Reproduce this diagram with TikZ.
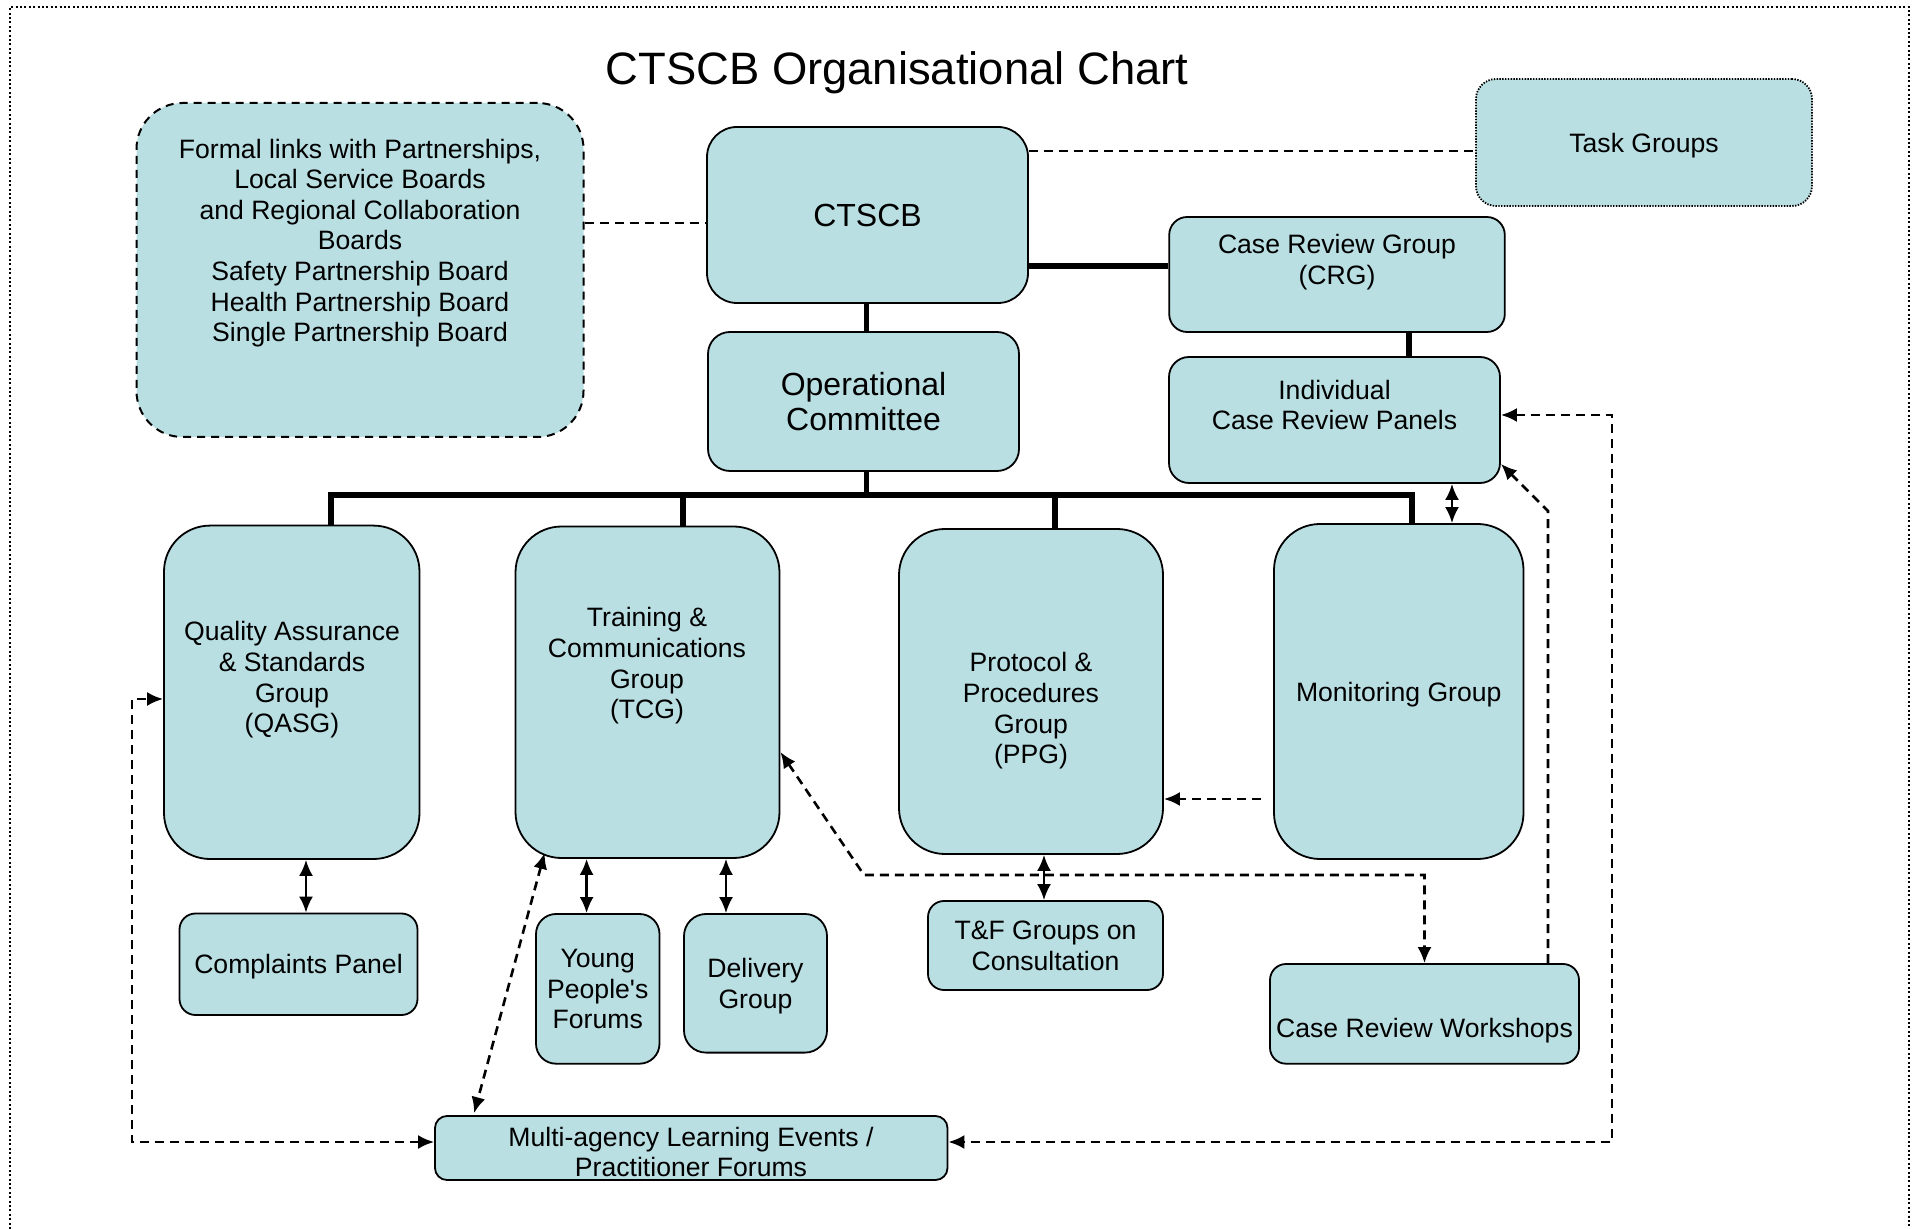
\documentclass[tikz,border=0pt]{standalone}
\usepackage{fontspec}
\setmainfont{Liberation Sans}
\usetikzlibrary{arrows.meta}
\definecolor{boxblue}{RGB}{185,223,227}
\newcommand{\txt}{\fontsize{13.3}{15.3}\selectfont}
\newcommand{\bigtxt}{\fontsize{16}{17.5}\selectfont}
\tikzset{
  grp/.style={draw, line width=0.9pt, fill=boxblue, inner sep=0pt, align=center, text depth=0pt, font=\txt},
  lbl/.style={align=center, font=\txt, inner sep=0pt},
  trunk/.style={line width=2.8pt},
  link/.style={line width=1.3pt, dash pattern=on 4.5pt off 3pt},
  pair/.style={line width=1.2pt, twohead},
  twohead/.style={{Latex[length=8pt,width=7pt]}-{Latex[length=8pt,width=7pt]}},
  onehead/.style={-{Latex[length=8pt,width=7pt]}},
}

\begin{document}
\begin{tikzpicture}[x=0.5pt, y=-0.5pt]
	\useasboundingbox (0,0) rectangle (1912,1229);
	\draw[line width=0.6pt, dash pattern=on 1pt off 1.2pt](10,1229)--(10,7)--(1909,7)--(1909,1229);
	\node[anchor=base, font=\fontsize{22.7}{26}\selectfont] (title) at (897,85) {CTSCB Organisational Chart};
	% board level
	\node[grp, line width=1pt, dash pattern=on 4pt off 3pt, rounded corners=23pt, minimum width=223.5pt, minimum height=167pt] (formal) at (360,270) {};
	\node[lbl] (formal-t) at (360,243) {Formal links with Partnerships,\\Local Service Boards\\and Regional Collaboration\\Boards\\Safety Partnership Board\\Health Partnership Board\\Single Partnership Board};
	\node[grp, font=\bigtxt, rounded corners=15pt, minimum width=160.5pt, minimum height=88pt] (ctscb) at (867.5,215) {CTSCB};
	\node[grp, dash pattern=on 0.7pt off 0.7pt, rounded corners=10pt, minimum width=168pt, minimum height=63.5pt] (task) at (1644,142.5) {Task Groups};
	\node[grp, rounded corners=9pt, minimum width=167.8pt, minimum height=57.5pt] (crg) at (1337,274.5) {};
	\node[lbl] (crg-t) at (1337,262) {Case Review Group\\(CRG)};
	\node[grp, font=\bigtxt, rounded corners=11pt, minimum width=155.5pt, minimum height=69.5pt] (opc) at (863.5,401.5) {Operational\\Committee};
	\node[grp, rounded corners=10pt, minimum width=165.5pt, minimum height=63pt] (ind) at (1334.5,420) {};
	\node[lbl] (ind-t) at (1334.5,405) {Individual\\Case Review Panels};
	% groups
	\node[grp, rounded corners=23pt, minimum width=127.75pt, minimum height=166.7pt] (qasg) at (291.75,692.3) {};
	\node[lbl] (qasg-t) at (292,680) {Quality Assurance\\\& Standards\\Group\\(QASG)};
	\node[grp, rounded corners=23pt, minimum width=132pt, minimum height=165.75pt] (tcg) at (647.5,692.25) {};
	\node[lbl] (tcg-t) at (647,666) {Training \&\\Communications\\Group\\(TCG)};
	\node[grp, rounded corners=23pt, minimum width=132pt, minimum height=162.5pt] (ppg) at (1031,691.5) {};
	\node[lbl] (ppg-t) at (1031,711) {Protocol \&\\Procedures\\Group\\(PPG)};
	\node[grp, rounded corners=23pt, minimum width=124.75pt, minimum height=167.5pt] (mon) at (1398.75,691.5) {Monitoring Group};
	% sub-groups
	\node[grp, rounded corners=8pt, minimum width=119pt, minimum height=50.75pt] (comp) at (298.5,964.25) {Complaints Panel};
	\node[grp, rounded corners=10pt, minimum width=61.75pt, minimum height=74.85pt] (ypf) at (597.75,988.85) {Young\\People\textquotesingle s\\Forums};
	\node[grp, rounded corners=11pt, minimum width=71.5pt, minimum height=69.3pt] (del) at (755.5,983.3) {Delivery\\Group};
	\node[grp, rounded corners=8pt, minimum width=117.5pt, minimum height=44.5pt] (tf) at (1045.5,945.5) {T\&F Groups on\\Consultation};
	\node[grp, rounded corners=8pt, minimum width=154.5pt, minimum height=49.85pt] (crw) at (1424.5,1013.85) {};
	\node[lbl] (crw-t) at (1424.5,1031) {Case Review Workshops};
	\node[grp, rounded corners=6pt, minimum width=256.25pt, minimum height=32pt] (multi) at (691.25,1148) {};
	\node[lbl] (multi-t) at (691,1152) {Multi-agency Learning Events /\\Practitioner Forums};
	% solid links
	\draw[trunk](ctscb.east |- 0,266)--(crg.west |- 0,266);
	\draw[trunk](ctscb.south -| 866.5,0)--(opc.north -| 866.5,0);
	\draw[trunk](crg.south -| 1409,0)--(ind.north -| 1409,0);
	\coordinate (bus) at (866.5,495);
	\draw[trunk](opc.south -| bus)--(bus);
	\draw[trunk](qasg.north -| 331,0) |- (bus) -| (mon.north -| 1412,0);
	\draw[trunk](tcg.north -| 683,0)--(bus -| 683,0);
	\draw[trunk](ppg.north -| 1055,0)--(bus -| 1055,0);
	\draw[pair](qasg.south -| 306,0)--(comp.north -| 306,0);
	\draw[pair](tcg.south -| 586.6,0)--(ypf.north -| 586.6,0);
	\draw[pair](tcg.south -| 726,0)--(del.north -| 726,0);
	\draw[pair](ppg.south -| 1044,0)--(tf.north -| 1044,0);
	\draw[pair](ind.south -| 1452,0)--(mon.north -| 1452,0);
	% dashed links
	\draw[link](formal.east |- 0,223)--(ctscb.west |- 0,223);
	\draw[link](ctscb.east |- 0,151)--(task.west |- 0,151);
	\draw[link, twohead](multi.west |- 0,1142) -| (132,699)--(qasg.west |- 0,699);
	\draw[link, twohead]([xshift=15pt,yshift=3pt]tcg.south west)--([xshift=20pt,yshift=1pt]multi.north west);
	\draw[link, twohead](tcg.east |- 0,752)--(864,875) -| (crw.north);
	\draw[link, onehead, shorten <=6pt](mon.west |- 0,799)--(ppg.east |- 0,799);
	\draw[link, onehead](crw.north -| 1548,0)--(1548,511)--([yshift=10pt]ind.south east);
	\draw[link, twohead](ind.east |- 0,415) -| (1612,1142)--(multi.east |- 0,1142);
\end{tikzpicture}
\end{document}
